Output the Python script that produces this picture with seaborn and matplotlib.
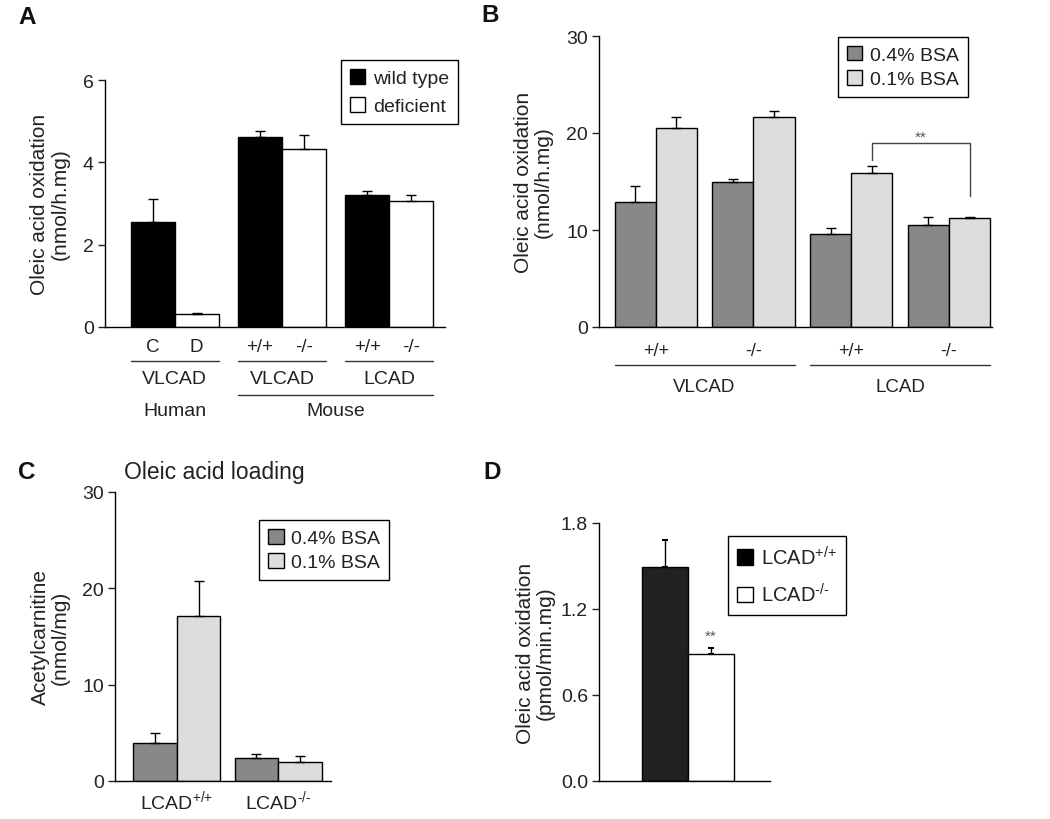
import numpy as np
import pandas as pd
import matplotlib
matplotlib.use("Agg")
import matplotlib.pyplot as plt
import seaborn as sns
from matplotlib.patches import Patch
from matplotlib.container import BarContainer

# -------------------------------------------------------
# DATA
# -------------------------------------------------------
# Panel A: oleic acid oxidation, wild type vs deficient
a_groups = ["VLCAD human", "VLCAD mouse", "LCAD mouse"]
a_genotypes = ["wild type", "deficient"]
a_wt = [2.55, 4.62, 3.21]
a_wt_sem = [0.55, 0.15, 0.09]
a_def = [0.32, 4.32, 3.06]
a_def_sem = [0.03, 0.35, 0.15]
a_ticklabels = ["C", "D", "+/+", "-/-", "+/+", "-/-"]

# Panel B: oleic acid oxidation at two BSA concentrations
b_groups = ["VLCAD +/+", "VLCAD -/-", "LCAD +/+", "LCAD -/-"]
b_bsa = ["0.4% BSA", "0.1% BSA"]
b_high = [12.9, 14.9, 9.6, 10.5]
b_high_sem = [1.6, 0.4, 0.6, 0.8]
b_low = [20.5, 21.6, 15.9, 11.2]
b_low_sem = [1.2, 0.7, 0.7, 0.1]
b_ticklabels = ["+/+", "-/-", "+/+", "-/-"]

# Panel C: acetylcarnitine after oleic acid loading
c_groups = ["LCAD$^{{+}/{+}}$", "LCAD$^{\u2010/\u2010}$"]
c_high = [3.9, 2.4]
c_high_sem = [1.1, 0.4]
c_low = [17.1, 2.0]
c_low_sem = [3.7, 0.6]

# Panel D: oleic acid oxidation, LCAD+/+ vs LCAD-/-
d_genotypes = ["LCAD$^{{+}/{+}}$", "LCAD$^{\u2010/\u2010}$"]
d_values = [1.49, 0.885]
d_sem = [0.19, 0.04]

DARK = "#888888"
LIGHT = "#dddddd"
TEXT = "#222222"

sns.set_style("ticks")
plt.rcParams["font.family"] = ["Liberation Sans", "DejaVu Sans"]
plt.rcParams["mathtext.fontset"] = "custom"
plt.rcParams["mathtext.rm"] = "Liberation Sans"
plt.rcParams["mathtext.default"] = "regular"
plt.rcParams["text.color"] = TEXT
plt.rcParams["axes.labelcolor"] = TEXT
plt.rcParams["xtick.color"] = TEXT
plt.rcParams["ytick.color"] = TEXT

W, H = 1050, 820
fig = plt.figure(figsize=(W / 100, H / 100), dpi=100)


def px_axes(left, top, right, bottom):
    return fig.add_axes([left / W, 1 - bottom / H, (right - left) / W, (bottom - top) / H])


def style_axes(ax, fs):
    sns.despine(ax=ax)
    for s in ["left", "bottom"]:
        ax.spines[s].set_linewidth(1.0)
        ax.spines[s].set_color("black")
    ax.tick_params(axis="y", direction="out", length=5, width=1, labelsize=14, pad=3)
    ax.tick_params(axis="x", length=0, labelsize=fs, pad=8)
    ax.set_xlabel("")


def bars(ax):
    return [c for c in ax.containers if isinstance(c, BarContainer)]


def centers(ax):
    return [[p.get_x() + p.get_width() / 2 for p in c.patches] for c in bars(ax)]


def add_errors(ax, sems, capsize=3.5, capthick=1):
    for cont, sem in zip(bars(ax), sems):
        xs = [p.get_x() + p.get_width() / 2 for p in cont.patches]
        ys = [p.get_height() for p in cont.patches]
        ax.errorbar(xs, ys, yerr=[np.zeros(len(sem)), sem], fmt="none", ecolor="black",
                    elinewidth=1, capsize=capsize, capthick=capthick, zorder=1)


def make_legend(ax, labels, colors, anchor, fs, spacing=0.5):
    handles = [Patch(facecolor=c, edgecolor="black", linewidth=1) for c in colors]
    leg = ax.legend(handles, labels, loc="upper right", bbox_to_anchor=anchor,
                    bbox_transform=ax.transAxes, borderaxespad=0, fontsize=fs,
                    frameon=True, fancybox=False, framealpha=1, edgecolor="black",
                    handlelength=0.8, handleheight=0.8, handletextpad=0.4,
                    labelspacing=spacing, borderpad=0.45)
    leg.get_frame().set_linewidth(1.0)
    return leg


YLABEL_FS = 15

# -------------------------------------------------------
# PANEL A
# -------------------------------------------------------
df_a = pd.DataFrame({
    "group": a_groups * 2,
    "genotype": [a_genotypes[0]] * 3 + [a_genotypes[1]] * 3,
    "value": a_wt + a_def,
})
ax = px_axes(105, 81, 445, 328)
sns.barplot(data=df_a, x="group", y="value", hue="genotype", order=a_groups,
            hue_order=a_genotypes, palette=["black", "white"], edgecolor="black",
            linewidth=1, errorbar=None, width=0.82, legend=False, ax=ax)
cw, cd = centers(ax)
half = bars(ax)[0].patches[0].get_width() / 2
add_errors(ax, [a_wt_sem, a_def_sem])
style_axes(ax, 13.5)
ax.set_ylim(0, 6)
ax.set_yticks([0, 2, 4, 6])
ax.set_xlim(-0.65, 2.52)
ax.set_xticks([x for pair in zip(cw, cd) for x in pair])
ax.set_xticklabels(a_ticklabels)
ax.set_ylabel("Oleic acid oxidation\n(nmol/h.mg)", fontsize=YLABEL_FS, linespacing=1.1)
ax.yaxis.set_label_coords(-0.105, 0.5)
trans = ax.get_xaxis_transform()
for i, name in enumerate(["VLCAD", "VLCAD", "LCAD"]):
    x0, x1 = cw[i] - half, cd[i] + half
    ax.plot([x0, x1], [-0.138, -0.138], color="#333333", lw=1, transform=trans, clip_on=False)
    ax.text((x0 + x1) / 2, -0.21, name, transform=trans, ha="center", va="center", fontsize=14)
ax.plot([cw[1] - half, cd[2] + half], [-0.275, -0.275], color="#333333", lw=1,
        transform=trans, clip_on=False)
ax.text((cw[0] + cd[0]) / 2, -0.34, "Human", transform=trans, ha="center", va="center", fontsize=14)
ax.text((cw[1] + cd[2]) / 2, -0.34, "Mouse", transform=trans, ha="center", va="center", fontsize=14)
make_legend(ax, a_genotypes, ["black", "white"], (1.038, 1.081), 14)

# -------------------------------------------------------
# PANEL B
# -------------------------------------------------------
df_b = pd.DataFrame({
    "group": b_groups * 2,
    "bsa": [b_bsa[0]] * 4 + [b_bsa[1]] * 4,
    "value": b_high + b_low,
})
ax = px_axes(599, 37, 992, 328)
sns.barplot(data=df_b, x="group", y="value", hue="bsa", order=b_groups,
            hue_order=b_bsa, palette=[DARK, LIGHT], edgecolor="black",
            linewidth=1, errorbar=None, width=0.84, legend=False, ax=ax)
ch, cl = centers(ax)
half = bars(ax)[0].patches[0].get_width() / 2
add_errors(ax, [b_high_sem, b_low_sem])
style_axes(ax, 13)
ax.set_ylim(0, 30)
ax.set_yticks([0, 10, 20, 30])
ax.set_xlim(-0.58, 3.44)
ax.set_xticks(range(len(b_groups)))
ax.set_xticklabels(b_ticklabels)
ax.tick_params(axis="x", pad=11)
ax.set_ylabel("Oleic acid oxidation\n(nmol/h.mg)", fontsize=YLABEL_FS, linespacing=1.1)
ax.yaxis.set_label_coords(-0.117, 0.5)
trans = ax.get_xaxis_transform()
for i, name in enumerate(["VLCAD", "LCAD"]):
    x0, x1 = ch[2 * i] - half, cl[2 * i + 1] + half
    ax.plot([x0, x1], [-0.131, -0.131], color="#333333", lw=1, transform=trans, clip_on=False)
    ax.text((x0 + x1) / 2, -0.203, name, transform=trans, ha="center", va="center", fontsize=13.5)
# significance bracket between LCAD +/+ and LCAD -/- at 0.1% BSA
top_l = b_low[2] + b_low_sem[2]
top_r = b_low[3] + b_low_sem[3]
br_y = top_l + 2.4
ax.plot([cl[2], cl[2], cl[3], cl[3]], [top_l + 0.6, br_y, br_y, top_r + 2.2],
        color="#444444", lw=1)
ax.text((cl[2] + cl[3]) / 2, br_y + 0.6, "**", ha="center", va="center", fontsize=11, color="#555555")
make_legend(ax, b_bsa, [DARK, LIGHT], (0.939, 0.997), 14, spacing=0.3)

# -------------------------------------------------------
# PANEL C
# -------------------------------------------------------
df_c = pd.DataFrame({
    "group": c_groups * 2,
    "bsa": [b_bsa[0]] * 2 + [b_bsa[1]] * 2,
    "value": c_high + c_low,
})
ax = px_axes(115, 493, 331, 782)
sns.barplot(data=df_c, x="group", y="value", hue="bsa", order=c_groups,
            hue_order=b_bsa, palette=[DARK, LIGHT], edgecolor="black",
            linewidth=1, errorbar=None, width=0.86, legend=False, ax=ax)
add_errors(ax, [c_high_sem, c_low_sem])
style_axes(ax, 14)
ax.tick_params(axis="x", pad=5)
ax.set_ylim(0, 30)
ax.set_yticks([0, 10, 20, 30])
ax.set_xlim(-0.61, 1.52)
ax.set_ylabel("Acetylcarnitine\n(nmol/mg)", fontsize=YLABEL_FS, linespacing=1.1)
ax.yaxis.set_label_coords(-0.208, 0.5)
ax.set_title("Oleic acid loading", fontsize=16.5, pad=10, x=0.46)
make_legend(ax, b_bsa, [DARK, LIGHT], (1.269, 0.903), 14, spacing=0.3)

# -------------------------------------------------------
# PANEL D
# -------------------------------------------------------
df_d = pd.DataFrame({
    "group": ["LCAD"] * 2,
    "genotype": d_genotypes,
    "value": d_values,
})
ax = px_axes(599, 524, 770, 782)
sns.barplot(data=df_d, x="group", y="value", hue="genotype", hue_order=d_genotypes,
            palette=["#231f20", "white"], edgecolor="black", linewidth=1,
            errorbar=None, width=0.8, legend=False, ax=ax)
pw = bars(ax)[1].patches[0]
add_errors(ax, [[d_sem[0]], [d_sem[1]]], capsize=2, capthick=1.5)
style_axes(ax, 13)
ax.set_ylim(0, 1.8)
ax.set_yticks([0, 0.6, 1.2, 1.8])
ax.set_yticklabels(["0.0", "0.6", "1.2", "1.8"])
ax.set_xlim(-0.77, 0.71)
ax.set_xticks([])
ax.set_ylabel("Oleic acid oxidation\n(pmol/min.mg)", fontsize=YLABEL_FS, linespacing=1.1)
ax.yaxis.set_label_coords(-0.257, 0.5)
ax.text(pw.get_x() + pw.get_width() / 2, d_values[1] + d_sem[1] + 0.09, "**",
        ha="center", va="center", fontsize=11, color="#555555")
make_legend(ax, d_genotypes, ["black", "white"], (1.444, 0.950), 14.5, spacing=0.7)

# -------------------------------------------------------
# PANEL LETTERS
# -------------------------------------------------------
for letter, (x, y) in zip("ABCD", [(27, 18), (490, 16), (27, 473), (492, 473)]):
    fig.text(x / W, 1 - y / H, letter, fontsize=17.5, fontweight="bold", color="#111111",
             ha="center", va="center")

fig.savefig("out.png", dpi=100)
